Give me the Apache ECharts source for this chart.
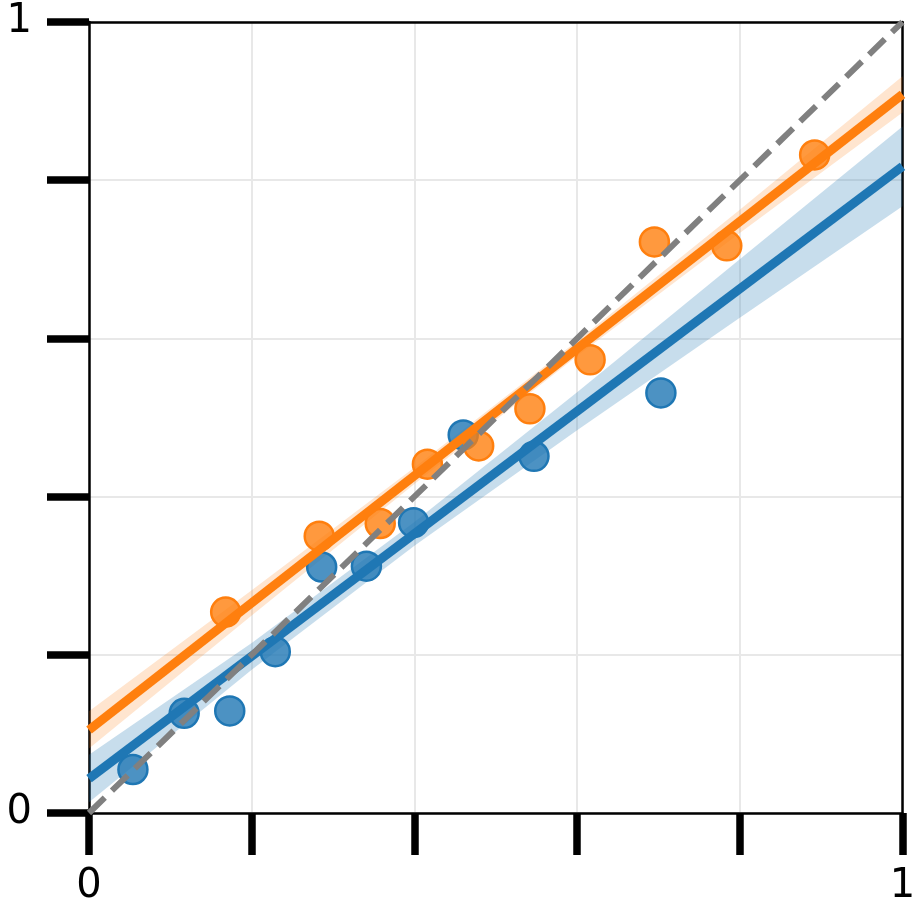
<!DOCTYPE html>
<html>
<head>
<meta charset="utf-8">
<style>
  html, body { margin: 0; padding: 0; background: #fff; }
  #chart { width: 921px; height: 916px; }
</style>
<script src="https://cdn.jsdelivr.net/npm/echarts@6/dist/echarts.min.js"></script>
</head>
<body>
<div id="chart"></div>
<script>
// scatter points
const blueX = [0.054, 0.117, 0.173, 0.229, 0.286, 0.341, 0.399, 0.460, 0.547, 0.703]
const blueY = [0.055, 0.126, 0.129, 0.204, 0.311, 0.312, 0.367, 0.478, 0.451, 0.531]
const orangeX = [0.168, 0.283, 0.358, 0.416, 0.479, 0.542, 0.616, 0.695, 0.784, 0.892]
const orangeY = [0.254, 0.350, 0.366, 0.441, 0.464, 0.511, 0.573, 0.722, 0.717, 0.832]

// fitted lines (value at x=0 and x=1)
const fitX = [0, 1]
const blueFit = [0.0435, 0.8175]
const orangeFit = [0.105, 0.9085]

// confidence bands, sampled along x
const bandX = [0, 0.2, 0.4, 0.6, 0.8, 1]
const blueLow = [0.0135, 0.181, 0.338, 0.484, 0.626, 0.767]
const blueHigh = [0.0735, 0.215, 0.368, 0.532, 0.700, 0.868]
const orangeLow = [0.0815, 0.2497, 0.4159, 0.5776, 0.7331, 0.8857]
const orangeHigh = [0.1285, 0.2817, 0.4369, 0.5966, 0.7625, 0.9313]

// identity line
const diagX = [0, 1]
const diagY = [0, 1]

const tickLabels = ['0', '', '', '', '', '1']

const BLUE = '#1f77b4'
const ORANGE = '#ff7f0e'
const FONT = 'DejaVu Sans'

function pairs (xs, ys) {
    return xs.map((x, i) => [x, ys[i]])
}

function bandSeries (low, high, fill) {
    return {
        type: 'custom',
        clip: true,
        z: 1,
        silent: true,
        data: [0],
        renderItem: function (params, api) {
            const top = bandX.map((x, i) => api.coord([x, high[i]]))
            const bottom = bandX.map((x, i) => api.coord([x, low[i]])).reverse()
            return {
                type: 'polygon',
                shape: { points: top.concat(bottom) },
                style: { fill: fill }
            }
        }
    }
}

function tickFmt (v) {
    return tickLabels[Math.round(v / 0.2)] || ''
}

const valueAxisBase = {
    type: 'value',
    min: 0,
    max: 1,
    interval: 0.2,
    axisLine: { show: true, lineStyle: { color: '#000', width: 2.5 } },
    axisTick: { show: true, length: 42, lineStyle: { color: '#000', width: 7.5 } },
    splitLine: { show: true, lineStyle: { color: '#e8e8e8', width: 2 } },
    axisLabel: {
        formatter: tickFmt,
        color: '#000',
        fontSize: 40,
        fontFamily: FONT,
        showMinLabel: true,
        showMaxLabel: true
    }
}

const chart = echarts.init(document.getElementById('chart'), null, { renderer: 'canvas' })

const option = {
    animation: false,
    backgroundColor: '#fff',
    grid: { left: 89, top: 22, right: 18.5, bottom: 103 },
    xAxis: [
        Object.assign({}, valueAxisBase, {
            position: 'bottom',
            axisLabel: Object.assign({}, valueAxisBase.axisLabel, { margin: 54 })
        }),
        {
            type: 'value', min: 0, max: 1, position: 'top',
            axisLine: { show: true, onZero: false, lineStyle: { color: '#000', width: 2.5 } },
            axisTick: { show: false }, axisLabel: { show: false }, splitLine: { show: false }
        }
    ],
    yAxis: [
        Object.assign({}, valueAxisBase, {
            position: 'left',
            axisLabel: Object.assign({}, valueAxisBase.axisLabel, { margin: 57 })
        }),
        {
            type: 'value', min: 0, max: 1, position: 'right',
            axisLine: { show: true, onZero: false, lineStyle: { color: '#000', width: 2.5 } },
            axisTick: { show: false }, axisLabel: { show: false }, splitLine: { show: false }
        }
    ],
    series: [
        bandSeries(blueLow, blueHigh, 'rgba(31,119,180,0.25)'),
        bandSeries(orangeLow, orangeHigh, 'rgba(255,127,14,0.2)'),
        {
            type: 'scatter',
            z: 2,
            symbolSize: 29,
            data: pairs(blueX, blueY),
            itemStyle: { color: 'rgba(31,119,180,0.8)', borderColor: BLUE, borderWidth: 2.5, opacity: 1 }
        },
        {
            type: 'scatter',
            z: 2,
            symbolSize: 29,
            data: pairs(orangeX, orangeY),
            itemStyle: { color: 'rgba(255,127,14,0.8)', borderColor: ORANGE, borderWidth: 2.5, opacity: 1 }
        },
        {
            type: 'line',
            z: 3,
            symbol: 'none',
            data: pairs(fitX, blueFit),
            lineStyle: { color: BLUE, width: 9 }
        },
        {
            type: 'line',
            z: 3,
            symbol: 'none',
            data: pairs(fitX, orangeFit),
            lineStyle: { color: ORANGE, width: 9 }
        },
        {
            type: 'line',
            z: 4,
            symbol: 'none',
            data: pairs(diagX, diagY),
            lineStyle: { color: '#808080', width: 6, type: [22, 10] }
        }
    ]
}

chart.setOption(option)
</script>
</body>
</html>
